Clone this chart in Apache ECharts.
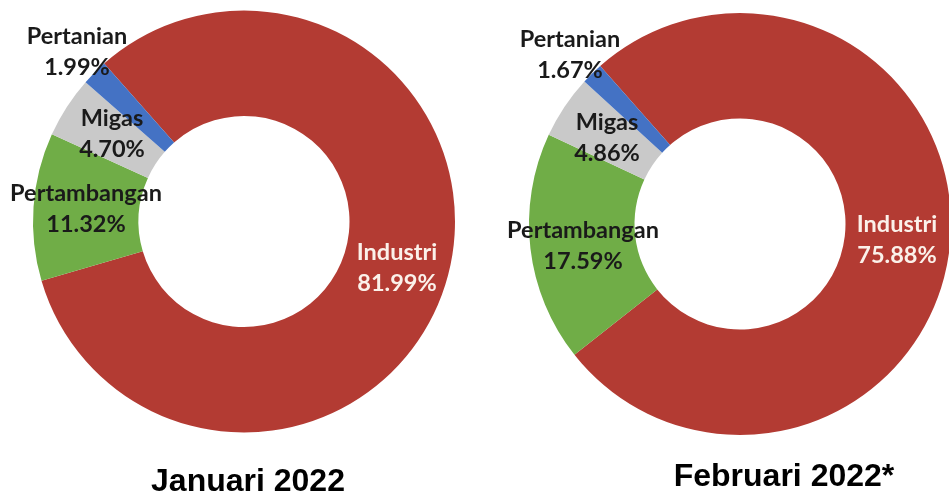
<!DOCTYPE html>
<html>
<head>
<meta charset="utf-8">
<script src="https://cdn.jsdelivr.net/npm/echarts@6/dist/echarts.min.js"></script>
<style>
  html, body { margin: 0; padding: 0; background: #fff; }
  #chart { width: 949px; height: 496px; }
</style>
</head>
<body>
<div id="chart"></div>
<script>
const sectors = ["Industri", "Pertambangan", "Migas", "Pertanian"];
const januari = [81.99, 11.32, 4.70, 1.99];
const februari = [75.88, 17.59, 4.86, 1.67];
const periods = ["Januari 2022", "Februari 2022*"];

const colors = ["#b33b33", "#70ad47", "#c9c9c9", "#4472c4"];
const labelColors = ["#fbf1ea", "#1a1a1a", "#1a1a1a", "#1a1a1a"];

// label anchor points (centre of each text block), per chart
const labelSpots = [
  [[397, 268], [86, 209], [112, 134], [77, 52]],
  [[897, 240], [583, 246], [607, 138], [570, 55]]
];

const chart = echarts.init(document.getElementById("chart"));

function buildSeries(values, center, idx) {
  return {
    type: "pie",
    center: center,
    radius: [105.5, 211],
    startAngle: 131.5,
    clockwise: true,
    silent: true,
    animation: false,
    avoidLabelOverlap: false,
    labelLine: { show: false },
    label: {
      show: true,
      position: "inside",
      fontFamily: "Lato",
      fontWeight: "bold",
      fontSize: 23.5,
      lineHeight: 31,
      align: "center",
      formatter: (p) => p.name + "\n" + p.value.toFixed(2) + "%"
    },
    labelLayout: (p) => {
      const spot = labelSpots[idx][p.dataIndex];
      return { x: spot[0], y: spot[1], align: "center", verticalAlign: "middle" };
    },
    data: sectors.map((name, i) => ({
      name: name,
      value: values[i],
      itemStyle: { color: colors[i] },
      label: { color: labelColors[i] }
    }))
  };
}

const titleStyle = { fontFamily: "Liberation Sans, Arial", fontWeight: "bold", fontSize: 32, color: "#000" };

chart.setOption({
  backgroundColor: "#ffffff",
  title: [
    { text: periods[0], left: 243, top: 461, textAlign: "center", textStyle: titleStyle },
    { text: periods[1], left: 779, top: 456, textAlign: "center", textStyle: titleStyle }
  ],
  series: [
    buildSeries(januari, [244, 221.5], 0),
    buildSeries(februari, [740, 224], 1)
  ]
});
</script>
</body>
</html>
